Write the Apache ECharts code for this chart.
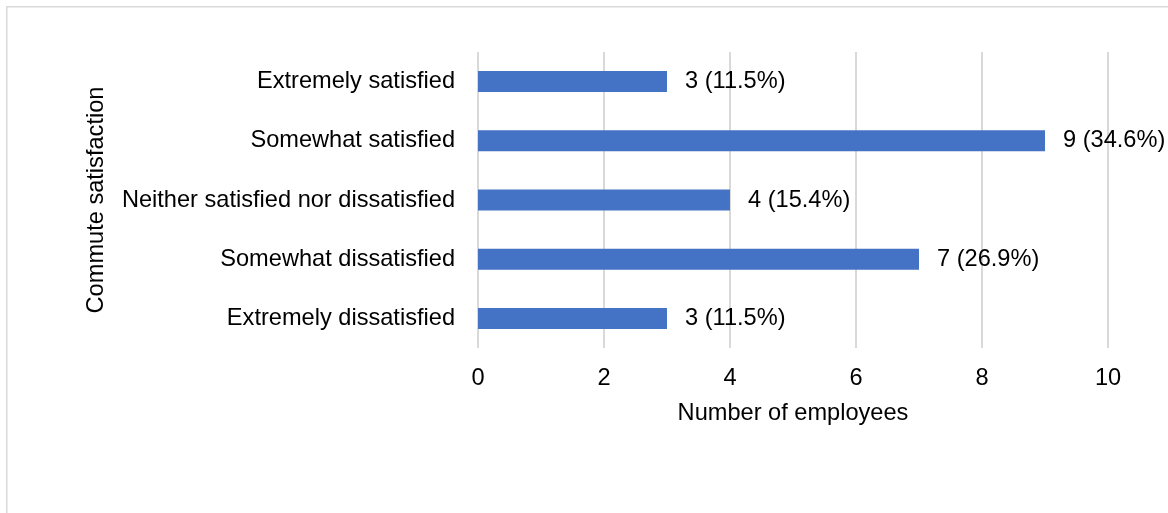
<!DOCTYPE html>
<html>
<head>
<meta charset="utf-8">
<script src="https://cdn.jsdelivr.net/npm/echarts@6/dist/echarts.min.js"></script>
<style>
html,body{margin:0;padding:0;background:#fff;}
#chart{width:1168px;height:513px;}
</style>
</head>
<body>
<div id="chart"></div>
<script>
var categories = ["Extremely satisfied", "Somewhat satisfied", "Neither satisfied nor dissatisfied", "Somewhat dissatisfied", "Extremely dissatisfied"];
var counts = [3, 9, 4, 7, 3];
var percents = ["11.5%", "34.6%", "15.4%", "26.9%", "11.5%"];
var xTicks = [0, 2, 4, 6, 8, 10];

var FONT = "'Liberation Sans', Arial, sans-serif";
var FS = 23.6;
var chart = echarts.init(document.getElementById('chart'));
chart.setOption({
  animation: false,
  backgroundColor: '#ffffff',
  graphic: [{
    type: 'rect',
    shape: {x: 6.75, y: 6.75, width: 1300, height: 700},
    style: {fill: 'none', stroke: '#d9d9d9', lineWidth: 1.5},
    silent: true, z: -1
  }],
  grid: {left: 478, right: 60, top: 52, bottom: 165, containLabel: false},
  xAxis: {
    type: 'value', min: xTicks[0], max: xTicks[xTicks.length - 1], interval: 2,
    name: 'Number of employees', nameLocation: 'middle', nameGap: 53,
    nameTextStyle: {fontFamily: FONT, fontSize: FS, color: '#000'},
    axisLine: {show: false}, axisTick: {show: false},
    axisLabel: {fontFamily: FONT, fontSize: FS, color: '#000', margin: 18},
    splitLine: {show: true, lineStyle: {color: '#d9d9d9', width: 2}}
  },
  yAxis: {
    type: 'category', data: categories, inverse: true,
    name: 'Commute satisfaction', nameLocation: 'middle', nameGap: 370, nameRotate: 90,
    nameTextStyle: {fontFamily: FONT, fontSize: FS, color: '#000'},
    axisLine: {show: false}, axisTick: {show: false},
    axisLabel: {fontFamily: FONT, fontSize: FS, color: '#000', margin: 23}
  },
  series: [{
    type: 'bar', data: counts, barWidth: 21,
    itemStyle: {color: '#4472C4'},
    label: {
      show: true, position: 'right', distance: 18,
      fontFamily: FONT, fontSize: FS, color: '#000',
      formatter: function (p) { return counts[p.dataIndex] + ' (' + percents[p.dataIndex] + ')'; }
    }
  }]
});
</script>
</body>
</html>
